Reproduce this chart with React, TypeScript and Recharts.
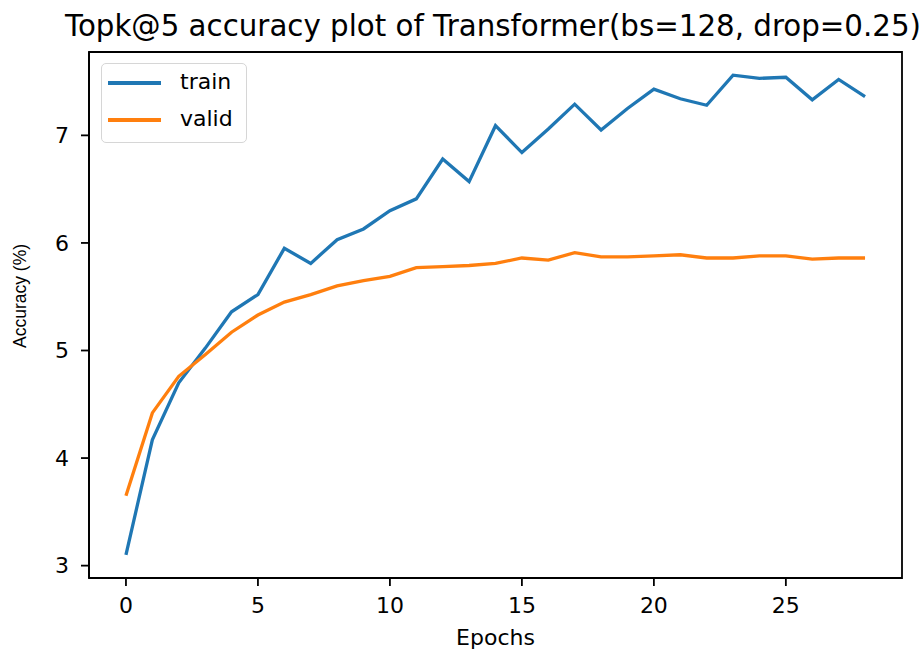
import React from 'react';
import { LineChart, Line, XAxis, YAxis, ReferenceArea } from 'recharts';

const epochs = [
  0, 1, 2, 3, 4, 5, 6, 7, 8, 9, 10, 11, 12, 13, 14, 15, 16, 17, 18, 19, 20, 21, 22, 23, 24, 25, 26, 27, 28,
];
const trainAcc = [
  3.1, 4.17, 4.7, 5.02, 5.36, 5.52, 5.95, 5.81, 6.03, 6.13, 6.3, 6.41, 6.78, 6.57, 7.09, 6.84, 7.06, 7.29,
  7.05, 7.25, 7.43, 7.34, 7.28, 7.56, 7.53, 7.54, 7.33, 7.52, 7.36,
];
const validAcc = [
  3.65, 4.42, 4.76, 4.96, 5.17, 5.33, 5.45, 5.52, 5.6, 5.65, 5.69, 5.77, 5.78, 5.79, 5.81, 5.86, 5.84, 5.91,
  5.87, 5.87, 5.88, 5.89, 5.86, 5.86, 5.88, 5.88, 5.85, 5.86, 5.86,
];
const xTicks = [0, 5, 10, 15, 20, 25];
const yTicks = [3, 4, 5, 6, 7];
const xDomain = [-1.4, 29.4];
const yDomain = [2.885, 7.775];

const TRAIN = '#1f77b4';
const VALID = '#ff7f0e';
const FONT = '"DejaVu Sans", sans-serif';

const data = epochs.map((e, i) => ({ epoch: e, train: trainAcc[i], valid: validAcc[i] }));

const tickStyle = { fill: '#000', fontSize: 22, fontFamily: FONT };
const axisLine = { stroke: '#000', strokeWidth: 1.8 };

// matplotlib-style legend box in the upper left corner
const LegendBox = () => (
  <div
    style={{
      position: 'absolute',
      left: 101,
      top: 63,
      width: 146,
      height: 80,
      boxSizing: 'border-box',
      border: '1.6px solid #d6d6d6',
      borderRadius: 5,
      background: '#fff',
      fontFamily: FONT,
      fontSize: 22,
      color: '#000',
    }}
  >
    {[
      { name: 'train', color: TRAIN, y: 19 },
      { name: 'valid', color: VALID, y: 56 },
    ].map((it) => (
      <React.Fragment key={it.name}>
        <div
          style={{ position: 'absolute', left: 6, top: it.y - 1.6, width: 53, height: 3.3, background: it.color }}
        />
        <div style={{ position: 'absolute', left: 78, top: it.y - 14, lineHeight: '26px' }}>{it.name}</div>
      </React.Fragment>
    ))}
  </div>
);

export default function App() {
  return (
    <div style={{ position: 'absolute', left: 0, top: 0, width: 923, height: 656, background: '#fff' }}>
      <LineChart width={923} height={656} data={data} margin={{ top: 52, right: 21, bottom: 38, left: 29 }}>
        <XAxis
          dataKey="epoch"
          type="number"
          domain={xDomain}
          ticks={xTicks}
          allowDataOverflow
          height={40}
          tick={tickStyle}
          tickSize={8}
          tickMargin={11}
          axisLine={axisLine}
          tickLine={axisLine}
        />
        <YAxis
          type="number"
          domain={yDomain}
          ticks={yTicks}
          allowDataOverflow
          width={60}
          tick={tickStyle}
          tickSize={8}
          tickMargin={12}
          axisLine={axisLine}
          tickLine={axisLine}
        />
        <ReferenceArea
          x1={xDomain[0]}
          x2={xDomain[1]}
          y1={yDomain[0]}
          y2={yDomain[1]}
          fill="none"
          fillOpacity={0}
          stroke="#000"
          strokeWidth={1.8}
          ifOverflow="visible"
        />
        <Line
          dataKey="train"
          name="train"
          stroke={TRAIN}
          strokeWidth={3.3}
          dot={false}
          isAnimationActive={false}
        />
        <Line
          dataKey="valid"
          name="valid"
          stroke={VALID}
          strokeWidth={3.3}
          dot={false}
          isAnimationActive={false}
        />
      </LineChart>
      <LegendBox />
      <div
        style={{
          position: 'absolute',
          left: 43,
          top: 12,
          width: 900,
          textAlign: 'center',
          fontFamily: FONT,
          fontSize: 29.3,
          lineHeight: '28px',
          whiteSpace: 'nowrap',
          color: '#000',
        }}
      >
        Topk@5 accuracy plot of Transformer(bs=128, drop=0.25)
      </div>
      <div
        style={{
          position: 'absolute',
          left: 89,
          top: 627,
          width: 813,
          textAlign: 'center',
          fontFamily: FONT,
          fontSize: 22,
          lineHeight: '22px',
          color: '#000',
        }}
      >
        Epochs
      </div>
      <div
        style={{
          position: 'absolute',
          left: 20,
          top: 296,
          transform: 'translate(-50%, -50%) rotate(-90deg)',
          fontFamily: '"Liberation Sans", Arial, sans-serif',
          fontSize: 17.5,
          whiteSpace: 'nowrap',
          color: '#000',
        }}
      >
        Accuracy (%)
      </div>
    </div>
  );
}
